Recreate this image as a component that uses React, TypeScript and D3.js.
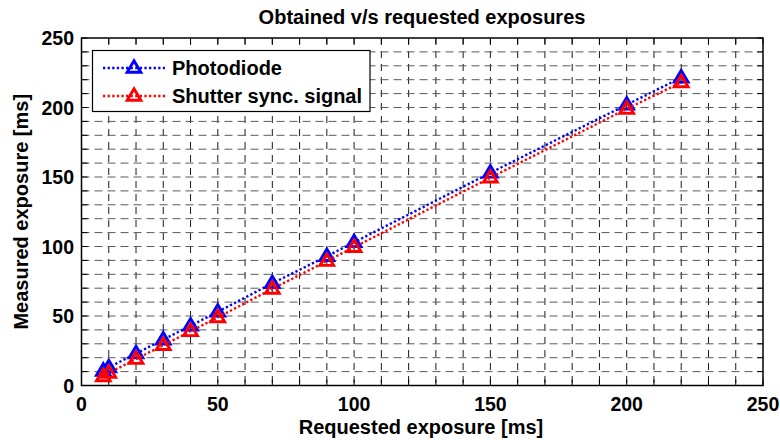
import React from "react";
import * as d3 from "d3";

const requested = [8, 10, 20, 30, 40, 50, 70, 90, 100, 150, 200, 220];
const photodiode = [10.5, 13, 23, 33, 43, 53, 73.5, 93, 103, 153, 202, 221.5];
const shutter = [6.5, 9, 19, 29, 39, 49, 69.5, 89.5, 99.5, 149.5, 199, 218];
const majorTicks = [0, 50, 100, 150, 200, 250];
const gridTicks = d3.range(0, 251, 10);
const seriesNames = ["Photodiode", "Shutter sync. signal"];
const seriesColors = ["#0000ff", "#ff0000"];

const W = 780, H = 440;
const L = 81.5, R = 763, T = 38, B = 385.5;
const FONT = "'Liberation Sans', Arial, Helvetica, sans-serif";

function Tri({ cx, cy, color }: { cx: number; cy: number; color: string }) {
  const s = 7.2;
  const pts = [
    [cx, cy - s],
    [cx + s * 0.95, cy + s * 0.6],
    [cx - s * 0.95, cy + s * 0.6],
  ];
  return (
    <polygon
      points={pts.map((p) => p.join(",")).join(" ")}
      fill="none"
      stroke={color}
      strokeWidth={2.9}
      strokeLinejoin="miter"
    />
  );
}

export default function App() {
  const x = d3.scaleLinear().domain([0, 250]).range([L, R]);
  const y = d3.scaleLinear().domain([0, 250]).range([B, T]);
  const line = d3
    .line<[number, number]>()
    .x((d) => x(d[0]))
    .y((d) => y(d[1]));
  const series = [photodiode, shutter];

  return (
    <svg
      width={W}
      height={H}
      style={{ position: "fixed", left: 0, top: 0, background: "#fff" }}
      fontFamily={FONT}
    >
      <rect x={0} y={0} width={W} height={H} fill="#fff" />
      {/* grid */}
      {gridTicks.slice(1, -1).map((t) => (
        <line
          key={"gx" + t}
          x1={x(t)}
          x2={x(t)}
          y1={T}
          y2={B}
          stroke="#1a1a1a"
          strokeWidth={1}
          strokeDasharray="7,6"
        />
      ))}
      {gridTicks.slice(1, -1).map((t) => (
        <line
          key={"gy" + t}
          x1={L}
          x2={R}
          y1={y(t)}
          y2={y(t)}
          stroke="#5a5a5a"
          strokeWidth={1}
          strokeDasharray="8,5"
        />
      ))}
      {/* ticks inward */}
      {gridTicks.map((t) => (
        <g key={"t" + t} stroke="#000" strokeWidth={1}>
          <line x1={x(t)} x2={x(t)} y1={B} y2={B - 6} />
          <line x1={x(t)} x2={x(t)} y1={T} y2={T + 6} />
          <line x1={L} x2={L + 6} y1={y(t)} y2={y(t)} />
          <line x1={R} x2={R - 6} y1={y(t)} y2={y(t)} />
        </g>
      ))}
      {/* axes box */}
      <rect x={L} y={T} width={R - L} height={B - T} fill="none" stroke="#000" strokeWidth={1.5} />
      {/* tick labels */}
      {majorTicks.map((t) => (
        <text
          key={"xl" + t}
          x={x(t)}
          y={411}
          textAnchor="middle"
          fontSize={19.5}
          fontWeight="bold"
        >
          {t}
        </text>
      ))}
      {majorTicks.map((t) => (
        <text
          key={"yl" + t}
          x={74}
          y={y(t) + 7}
          textAnchor="end"
          fontSize={19.5}
          fontWeight="bold"
        >
          {t}
        </text>
      ))}
      {/* series */}
      {series.map((vals, i) => {
        const pts: [number, number][] = requested.map((r, j) => [r, vals[j]]);
        return (
          <g key={"s" + i}>
            <path
              d={line(pts) || ""}
              fill="none"
              stroke={seriesColors[i]}
              strokeWidth={2.4}
              strokeDasharray="2.3,2.3"
            />
            {pts.map((p, j) => (
              <Tri key={j} cx={x(p[0])} cy={y(p[1])} color={seriesColors[i]} />
            ))}
          </g>
        );
      })}
      {/* legend */}
      <rect x={92.5} y={50.5} width={277.5} height={61} fill="#fff" stroke="#000" strokeWidth={1.2} />
      {seriesNames.map((n, i) => {
        const ly = 68 + i * 28;
        return (
          <g key={"lg" + i}>
            <line
              x1={103}
              x2={165}
              y1={ly}
              y2={ly}
              stroke={seriesColors[i]}
              strokeWidth={2.4}
              strokeDasharray="2.3,2.3"
            />
            <Tri cx={134} cy={ly} color={seriesColors[i]} />
            <text x={172} y={ly + 7} fontSize={20} fontWeight="bold">
              {n}
            </text>
          </g>
        );
      })}
      {/* title & labels */}
      <text x={422} y={24} textAnchor="middle" fontSize={20} fontWeight="bold">
        Obtained v/s requested exposures
      </text>
      <text x={421} y={434} textAnchor="middle" fontSize={20} fontWeight="bold">
        Requested exposure [ms]
      </text>
      <text
        transform={`translate(28,${(T + B) / 2}) rotate(-90)`}
        textAnchor="middle"
        fontSize={20}
        fontWeight="bold"
      >
        Measured exposure [ms]
      </text>
    </svg>
  );
}
